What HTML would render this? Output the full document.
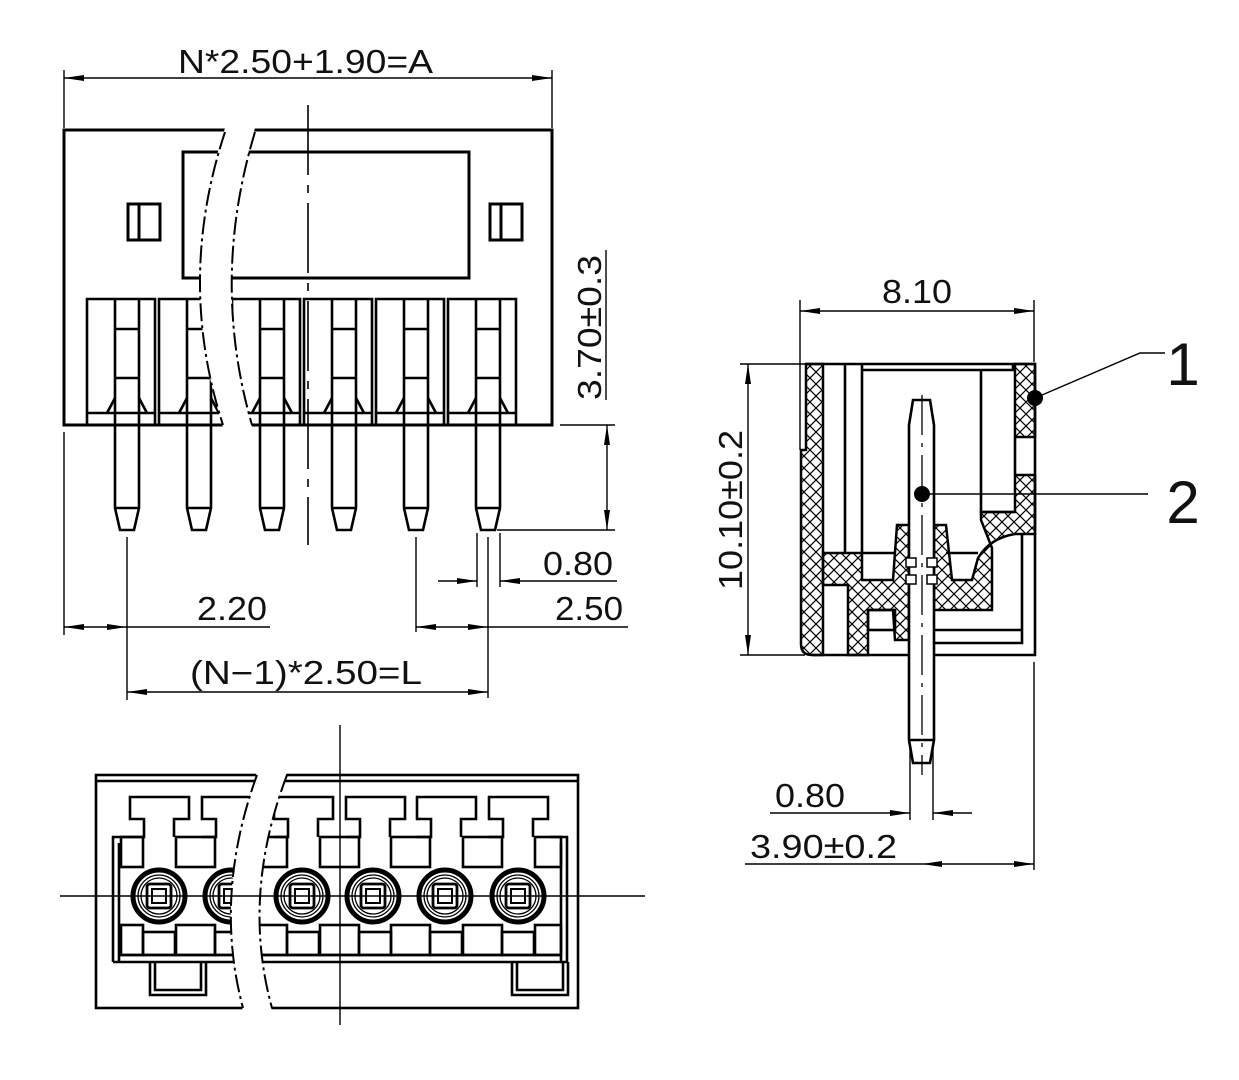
<!DOCTYPE html>
<html><head><meta charset="utf-8"><style>
html,body{margin:0;padding:0;background:#fff}
svg{display:block}
text{font-family:"Liberation Sans",sans-serif;fill:#111;font-weight:normal}
</style></head><body>
<svg width="1239" height="1080" viewBox="0 0 1239 1080" xmlns="http://www.w3.org/2000/svg">
<defs>
<marker id="ar" viewBox="0 0 20 8" refX="20" refY="4" markerWidth="20" markerHeight="8" markerUnits="userSpaceOnUse" orient="auto-start-reverse"><path d="M0,1 L20,4 L0,7 Z" fill="#000"/></marker>
<pattern id="hx" patternUnits="userSpaceOnUse" width="12" height="12"><path d="M0,0 L12,12 M12,0 L0,12" stroke="#000" stroke-width="1.2"/></pattern>
</defs>
<g fill="none" stroke="#000" stroke-width="3">
<rect x="64" y="130" width="488" height="295"/>
<rect x="183" y="152" width="286" height="126"/>
<rect x="128" y="204" width="32" height="36"/><line x1="139" y1="204" x2="139" y2="240"/>
<rect x="490" y="204" width="32" height="36"/><line x1="501" y1="204" x2="501" y2="240"/>
</g>
<g fill="none" stroke="#000" stroke-width="2.6" id="pins">
<g id="p1" transform="translate(127,0)">
<path d="M-40,425 V299 H28 V425"/>
<line x1="-40" y1="413" x2="28" y2="413"/>
<path d="M-12,299 V378 M12,299 V378 M-12,329 H12 M-12,378 H12"/>
<path d="M-12,398 L-20,413 M12,398 L20,413"/>
<path d="M-12,378 V508 L-7,530 H7 L12,508 V378"/>
<line x1="-12" y1="508" x2="12" y2="508"/>
</g>
<use href="#p1" transform="translate(72,0)"/>
<use href="#p1" transform="translate(145,0)"/>
<use href="#p1" transform="translate(217,0)"/>
<use href="#p1" transform="translate(289,0)"/>
<use href="#p1" transform="translate(361,0)"/>
</g>
<path d="M225,128 Q176,280 223,427 L252,427 Q210,280 255,128 Z" fill="#fff" stroke="none"/>
<g fill="none" stroke="#000" stroke-width="2" stroke-dasharray="18,4,3,4">
<path d="M225,132 Q176,280 223,425"/><path d="M255,132 Q210,280 252,425"/>
</g>
<line x1="308" y1="105" x2="308" y2="545" stroke="#000" stroke-width="1.6" stroke-dasharray="70,10,8,10"/>

<g stroke="#000" stroke-width="1.4" fill="none">
<line x1="64" y1="70" x2="64" y2="128"/><line x1="552" y1="70" x2="552" y2="128"/>
<line x1="64" y1="78" x2="552" y2="78" marker-start="url(#ar)" marker-end="url(#ar)"/>
<line x1="560" y1="425" x2="615" y2="425"/><line x1="497" y1="530" x2="615" y2="530"/>
<line x1="607" y1="425" x2="607" y2="530" marker-start="url(#ar)" marker-end="url(#ar)"/>
<line x1="606" y1="250" x2="606" y2="400"/>
<line x1="477" y1="533" x2="477" y2="587"/><line x1="500" y1="533" x2="500" y2="587"/>
<line x1="438" y1="581" x2="477" y2="581" marker-end="url(#ar)"/>
<line x1="617" y1="581" x2="500" y2="581" marker-end="url(#ar)"/>
<line x1="488" y1="537" x2="488" y2="698"/>
<line x1="416" y1="537" x2="416" y2="632"/>
<line x1="416" y1="627" x2="488" y2="627" marker-start="url(#ar)" marker-end="url(#ar)"/>
<line x1="488" y1="627" x2="628" y2="627"/>
<line x1="64" y1="432" x2="64" y2="635"/><line x1="127" y1="537" x2="127" y2="700"/>
<line x1="64" y1="627" x2="127" y2="627" marker-start="url(#ar)" marker-end="url(#ar)"/>
<line x1="127" y1="627" x2="270" y2="627"/>
<line x1="127" y1="692" x2="488" y2="692" marker-start="url(#ar)" marker-end="url(#ar)"/>
</g>
<text x="178" y="73" font-size="33" textLength="255" lengthAdjust="spacingAndGlyphs">N*2.50+1.90=A</text>
<text transform="translate(601,400) rotate(-90)" font-size="33" textLength="145" lengthAdjust="spacingAndGlyphs">3.70±0.3</text>
<text x="543" y="575" font-size="33" textLength="70" lengthAdjust="spacingAndGlyphs">0.80</text>
<text x="555" y="620" font-size="33" textLength="68" lengthAdjust="spacingAndGlyphs">2.50</text>
<text x="197" y="620" font-size="33" textLength="70" lengthAdjust="spacingAndGlyphs">2.20</text>
<text x="190" y="684" font-size="33" textLength="232" lengthAdjust="spacingAndGlyphs">(N−1)*2.50=L</text>

<g fill="none" stroke="#000" stroke-width="2.6">
<rect x="96" y="775" width="482" height="233"/>
<line x1="96" y1="781" x2="578" y2="781"/>
<path d="M113,962 V837 H130 M119,962 V843 M561,843 V962 M567,962 V837 H550"/>
<line x1="113" y1="962" x2="567" y2="962"/>
<line x1="119" y1="955" x2="561" y2="955"/>
<g id="t1">
<path d="M130,837 H144 V819 H130 V797 H189 V819 H174 V837"/>
<rect x="121" y="837" width="22" height="30"/>
<rect x="121" y="925" width="22" height="30"/>
<rect x="143" y="932" width="32" height="23"/>
</g>
<g id="t2" transform="translate(72,0)">
<path d="M130,837 H144 V819 H130 V797 H189 V819 H174 V837"/>
<rect x="104" y="837" width="39" height="30"/>
<rect x="104" y="925" width="39" height="30"/>
<rect x="143" y="932" width="32" height="23"/>
</g>
<use href="#t2" transform="translate(72,0)"/>
<use href="#t2" transform="translate(144,0)"/>
<use href="#t2" transform="translate(215,0)"/>
<use href="#t2" transform="translate(287,0)"/>
<rect x="535" y="837" width="26" height="30"/>
<rect x="535" y="925" width="26" height="30"/>
<path d="M150,962 V995 H206 V962 M155,962 V990 H201 V962"/>
<path d="M512,962 V995 H568 V962 M517,962 V990 H563 V962"/>
</g>
<g id="c1" fill="none" stroke="#000">
<circle cx="159" cy="896" r="26" stroke-width="5"/>
<circle cx="159" cy="896" r="21" stroke-width="1.3"/>
<circle cx="159" cy="896" r="18" stroke-width="1.3"/>
<rect x="147" y="884" width="24" height="24" rx="3" stroke-width="2.8"/>
<rect x="152" y="889" width="14" height="14" stroke-width="2"/>
</g>
<use href="#c1" transform="translate(72,0)"/>
<use href="#c1" transform="translate(143,0)"/>
<use href="#c1" transform="translate(214,0)"/>
<use href="#c1" transform="translate(286,0)"/>
<use href="#c1" transform="translate(359,0)"/>
<path d="M257,772 Q213,896 243,1011 L272,1011 Q241,896 287,772 Z" fill="#fff" stroke="none"/>
<g fill="none" stroke="#000" stroke-width="2" stroke-dasharray="18,4,3,4">
<path d="M257,775 Q213,896 243,1008"/><path d="M287,775 Q241,896 272,1008"/>
</g>
<g stroke="#000" stroke-width="1.4">
<line x1="340" y1="725" x2="340" y2="1025"/>
<line x1="60" y1="896" x2="645" y2="896"/>
</g>

<g stroke="#000" stroke-width="2.5">
<path d="M801,450 H806 V364 H823 V655 H812 Q801,655 801,644 Z" fill="url(#hx)"/>
<path d="M823,553 H862 V580 H893 L897,525 H909 V640 H895 L893,610 H868 V655 H848 V585 H823 Z" fill="url(#hx)"/>
<path d="M934,525 H946 L952,580 H972 L978,558 Q990,538 1015,534 H1035 V475 H1015 V512 H981 V520 L992,548 V610 H934 Z" fill="url(#hx)"/>
<rect x="1015" y="364" width="20" height="73" fill="url(#hx)"/>
</g>
<g fill="none" stroke="#000" stroke-width="2.6">
<path d="M806,364 H1035 V655 H812"/>
<path d="M845,364 V553 M862,364 V553 M862,370 H1013 V364 M981,370 V512 H1013"/>
<path d="M1015,437 V475 M1022,534 V643 H934 M934,630 H1022"/>
<rect x="868" y="610" width="27" height="20"/>
<path d="M862,553 H895 M946,553 H978"/>
<path d="M909,425 L913,400 H930 L934,425 V740 L930,763 H913 L909,740 Z" fill="#fff"/>
<line x1="909" y1="740" x2="934" y2="740"/>
</g>
<g fill="#fff" stroke="#000" stroke-width="1.5">
<rect x="906" y="558" width="10" height="9"/><rect x="927" y="558" width="10" height="9"/>
<rect x="906" y="575" width="10" height="9"/><rect x="927" y="575" width="10" height="9"/>
</g>
<line x1="922" y1="395" x2="922" y2="775" stroke="#000" stroke-width="1.3" stroke-dasharray="40,8,4,8"/>
<circle cx="1035" cy="398" r="8" fill="#000"/>
<circle cx="922" cy="494" r="8" fill="#000"/>
<g stroke="#000" stroke-width="1.4" fill="none">
<polyline points="1035,398 1140,353 1165,353"/>
<line x1="922" y1="494" x2="1148" y2="494"/>
<line x1="800" y1="300" x2="800" y2="450"/><line x1="1034" y1="300" x2="1034" y2="362"/>
<line x1="800" y1="311" x2="1034" y2="311" marker-start="url(#ar)" marker-end="url(#ar)"/>
<line x1="740" y1="364" x2="805" y2="364"/><line x1="740" y1="655" x2="805" y2="655"/>
<line x1="748" y1="364" x2="748" y2="655" marker-start="url(#ar)" marker-end="url(#ar)"/>
<line x1="910" y1="745" x2="910" y2="820"/><line x1="933" y1="745" x2="933" y2="820"/>
<line x1="770" y1="813" x2="910" y2="813" marker-end="url(#ar)"/>
<line x1="972" y1="813" x2="933" y2="813" marker-end="url(#ar)"/>
<line x1="1034" y1="662" x2="1034" y2="870"/>
<line x1="745" y1="864" x2="922" y2="864"/>
<line x1="922" y1="864" x2="1034" y2="864" marker-start="url(#ar)" marker-end="url(#ar)"/>
</g>
<text x="882" y="303" font-size="33" textLength="70" lengthAdjust="spacingAndGlyphs">8.10</text>
<text transform="translate(742,590) rotate(-90)" font-size="33" textLength="160" lengthAdjust="spacingAndGlyphs">10.10±0.2</text>
<text x="775" y="807" font-size="33" textLength="70" lengthAdjust="spacingAndGlyphs">0.80</text>
<text x="750" y="858" font-size="33" textLength="147" lengthAdjust="spacingAndGlyphs">3.90±0.2</text>
<text x="1183" y="385" font-size="60" text-anchor="middle">1</text>
<text x="1183" y="523" font-size="60" text-anchor="middle">2</text>
</svg>
</body></html>
